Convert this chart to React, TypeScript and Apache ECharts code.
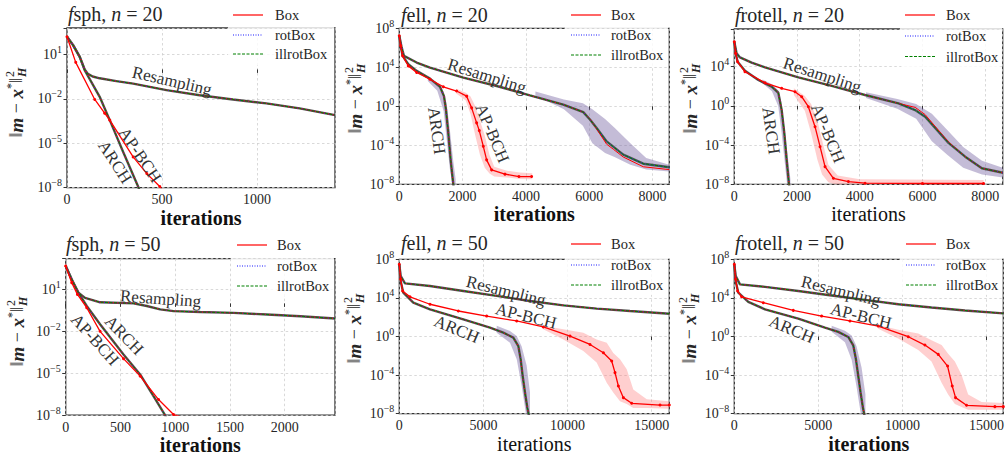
import React, { useEffect, useRef } from "react";
import * as echarts from "echarts";

type Pt = [number, number];
type BandPt = [number, number, number]; // [iteration, lower, upper]

// ---------------- data (iteration, ||m - x*||^2_H) ----------------
// f_sph, n = 20
const sphN20Resampling: Pt[] = [[0, 1.6e2], [32, 4.4e1], [67, 7.1], [93, 1.0], [110, 5.0e-1], [135, 3.3e-1], [172, 2.5e-1], [260, 1.6e-1], [348, 1.1e-1], [523, 4.0e-2], [698, 1.8e-2], [873, 9.3e-3], [1049, 5.0e-3], [1224, 2.3e-3], [1410, 8.1e-4]];
const sphN20Arch: Pt[] = [[0, 1.6e2], [32, 4.4e1], [67, 7.1], [93, 8.9e-1], [172, 1.4e-2], [225, 3.7e-4], [295, 2.7e-6], [374, 1.2e-8], [391, 3.2e-9]];
const sphN20Apbch: Pt[] = [[0, 1.6e2], [46, 3.0], [146, 9.3e-3], [198, 1.1e-3], [225, 3.7e-4], [348, 1.2e-6], [420, 9.0e-8], [488, 1.2e-8], [523, 3.2e-9]];

// f_ell, n = 20
const ellN20Resampling: Pt[] = [[0, 1.7e7], [74, 1.1e6], [147, 1.5e5], [548, 3.1e4], [969, 9.3e3], [2022, 8.7e2], [3075, 1.2e2], [4128, 1.3e1], [5181, 1.5], [5812, 2.5e-1], [6023, 4.4e-2], [6234, 6.0e-3], [6550, 2.5e-4], [7076, 1.1e-5], [7708, 1.3e-6], [8529, 5.6e-7]];
const ellN20ResamplingBox: Pt[] = [[0, 1.7e7], [74, 1.1e6], [147, 1.5e5], [548, 3.1e4], [969, 9.3e3], [2022, 8.7e2], [3075, 1.2e2], [4128, 1.3e1], [5181, 1.5], [5812, 2.5e-1], [6023, 5.0e-2], [6234, 5.0e-3], [6550, 1.3e-4], [6760, 4.0e-5], [7076, 6.3e-6], [7708, 6.3e-7], [8529, 3.2e-7]];
const ellN20Arch: Pt[] = [[0, 1.7e7], [42, 1.6e6], [105, 1.5e5], [284, 2.1e4], [548, 4.3e3], [969, 6.9e2], [1285, 1.0e2], [1411, 1.1e1], [1474, 4.7e-1], [1548, 1.8e-3], [1622, 3.2e-6], [1706, 1.0e-8], [1737, 1.2e-9]];
const ellN20Apbch: Pt[] = [[0, 1.7e7], [42, 1.6e6], [105, 1.5e5], [284, 1.4e4], [548, 2.9e3], [969, 5.9e2], [1390, 1.0e2], [1811, 3.7e1], [2127, 1.1e1], [2285, 6.9e-1], [2443, 2.0e-2], [2527, 3.2e-3], [2654, 7.8e-5], [2759, 3.2e-6], [2917, 3.0e-7], [3338, 1.1e-7], [3780, 6.2e-8], [4180, 6.2e-8]];
const ellN20ResamplingBand: BandPt[] = [[4300, 1.3e1, 3.2e1], [5200, 5.0e-1, 5.0], [5800, 1.0e-2, 2.0], [6100, 1.6e-4, 5.0e-1], [6500, 1.6e-5, 5.0e-2], [6800, 6.3e-6, 6.3e-3], [7300, 1.0e-6, 1.6e-4], [7800, 3.2e-7, 5.0e-6], [8530, 2.0e-7, 1.0e-6]];
const ellN20ArchBand: BandPt[] = [[900, 4.0e2, 1.0e3], [1200, 4.0e1, 2.0e2], [1400, 3.2e-1, 3.2e1], [1500, 3.2e-4, 1.6], [1600, 3.2e-7, 3.2e-3], [1700, 3.2e-9, 3.2e-6], [1780, 1.0e-9, 3.2e-8]];
const ellN20ApbchBand: BandPt[] = [[1800, 2.0e1, 6.3e1], [2100, 4.0, 2.5e1], [2250, 1.6e-1, 1.0e1], [2400, 1.0e-3, 1.0], [2550, 1.0e-5, 3.2e-2], [2700, 5.0e-7, 1.0e-3], [2850, 1.3e-7, 1.0e-5], [3000, 6.3e-8, 6.3e-7], [3400, 5.0e-8, 2.5e-7], [3800, 3.5e-8, 1.6e-7], [4200, 3.2e-8, 1.4e-7]];

// f_rotell, n = 20
const rotellN20Resampling: Pt[] = [[0, 3.5e6], [74, 2.3e5], [181, 8.9e4], [553, 2.6e4], [979, 8.5e3], [2043, 8.1e2], [3107, 1.1e2], [4170, 1.3e1], [5235, 1.8], [5767, 3.8e-1], [6086, 7.9e-2], [6299, 1.4e-2], [6831, 1.7e-4], [7363, 6.6e-6], [7895, 4.3e-7], [8565, 1.5e-7]];
const rotellN20ResamplingBox: Pt[] = [[0, 3.5e6], [74, 2.3e5], [181, 8.9e4], [553, 2.6e4], [979, 8.5e3], [2043, 8.1e2], [3107, 1.1e2], [4170, 1.3e1], [5235, 1.8], [5767, 7.1e-1], [6086, 1.3e-1], [6299, 2.0e-2], [6831, 2.0e-4], [7363, 6.6e-6], [7895, 4.3e-7], [8565, 1.5e-7]];
const rotellN20Arch: Pt[] = [[0, 3.5e6], [43, 2.3e5], [106, 3.2e4], [340, 3.9e3], [766, 4.4e2], [1192, 9.1e1], [1404, 2.2e1], [1511, 3.8e-1], [1596, 1.6e-3], [1670, 3.0e-6], [1745, 1.0e-8], [1777, 1.3e-9]];
const rotellN20Apbch: Pt[] = [[0, 3.5e6], [43, 2.3e5], [106, 3.2e4], [340, 3.1e3], [979, 2.3e2], [1511, 6.2e1], [1936, 2.8e1], [2149, 8.7], [2362, 8.3e-1], [2575, 7.6e-3], [2735, 6.9e-5], [2894, 6.3e-7], [3160, 4.1e-8], [3639, 1.9e-8], [4171, 1.3e-8], [6000, 1.2e-8], [7950, 1.2e-8]];
const rotellN20ResamplingBand: BandPt[] = [[4200, 6.3, 2.5e1], [5200, 5.0e-1, 5.0], [5800, 5.0e-2, 1.6], [6300, 2.5e-4, 1.6e-1], [6800, 1.0e-5, 3.2e-3], [7300, 5.0e-7, 6.3e-5], [7900, 1.0e-7, 2.5e-6], [8560, 5.0e-8, 5.0e-7]];
const rotellN20ArchBand: BandPt[] = [[900, 2.0e2, 5.0e2], [1200, 3.2e1, 1.6e2], [1400, 1.0, 4.0e1], [1500, 3.2e-3, 2.5], [1600, 3.2e-6, 6.3e-3], [1700, 3.2e-9, 1.0e-5], [1790, 1.0e-9, 3.2e-8]];
const rotellN20ApbchBand: BandPt[] = [[1900, 1.3e1, 6.3e1], [2250, 3.2e-1, 1.0e1], [2450, 1.6e-3, 1.6], [2650, 3.2e-6, 3.2e-2], [2800, 1.0e-7, 3.2e-4], [3000, 1.6e-8, 1.0e-6], [3300, 7.9e-9, 7.9e-8], [4000, 5.0e-9, 3.2e-8], [7950, 5.0e-9, 2.8e-8]];

// f_sph, n = 50
const sphN50Resampling: Pt[] = [[0, 4.7e2], [55, 5.2e1], [116, 5.8], [177, 2.5], [314, 1.2], [619, 1.0], [741, 6.5e-1], [863, 3.7e-1], [985, 2.8e-1], [1229, 2.4e-1], [1534, 2.1e-1], [1839, 1.6e-1], [2144, 1.2e-1], [2460, 8.3e-2]];
const sphN50Arch: Pt[] = [[0, 4.7e2], [55, 5.2e1], [116, 5.8], [192, 6.5e-1], [314, 3.2e-2], [528, 2.2e-4], [680, 8.1e-6], [802, 2.3e-7], [909, 9.5e-9], [939, 2.8e-9]];
const sphN50Apbch: Pt[] = [[0, 4.7e2], [55, 3.0e1], [107, 4.4], [192, 4.9e-1], [314, 1.0e-2], [528, 1.1e-4], [680, 6.2e-6], [848, 1.3e-7], [985, 1.1e-8], [1046, 7.9e-9]];

// f_ell, n = 50
const ellN50Resampling: Pt[] = [[0, 3.0e7], [79, 1.9e6], [337, 3.2e5], [1823, 1.7e5], [3805, 5.2e4], [5787, 1.6e4], [7769, 4.8e3], [9751, 1.7e3], [11733, 7.8e2], [13716, 4.4e2], [16050, 2.3e2]];
const ellN50Arch: Pt[] = [[0, 3.0e7], [79, 5.6e5], [238, 3.5e4], [832, 3.2e3], [1823, 6.6e2], [3805, 6.0e1], [5391, 8.3], [6184, 2.5], [6778, 7.6e-1], [7076, 1.0e-1], [7215, 4.3e-3], [7334, 8.1e-5], [7473, 1.5e-6], [7611, 4.2e-8], [7710, 5.8e-9]];
const ellN50Apbch: Pt[] = [[0, 3.0e7], [79, 8.5e5], [198, 5.2e4], [634, 1.3e4], [1823, 2.2e3], [3508, 4.4e2], [5193, 1.3e2], [6977, 4.1e1], [8562, 9.8], [10148, 1.1], [11337, 1.5e-1], [12130, 2.1e-2], [12625, 2.9e-3], [12823, 1.8e-4], [13022, 7.4e-6], [13319, 4.6e-7], [13814, 1.2e-7], [15499, 7.9e-8], [16050, 7.9e-8]];
const ellN50ArchBand: BandPt[] = [[5790, 2.5, 1.3e1], [6580, 2.3e-1, 3.7], [6980, 4.3e-3, 1.1], [7270, 7.9e-6, 1.0e-1], [7570, 3.2e-9, 1.0e-3], [7770, 3.2e-9, 1.6e-6]];
const ellN50ApbchBand: BandPt[] = [[8560, 5.5, 1.3e1], [9750, 5.0e-1, 5.5], [10940, 3.2e-2, 2.5], [11730, 2.0e-3, 5.0e-1], [12330, 1.6e-5, 2.3e-1], [12720, 1.6e-6, 2.0e-2], [13120, 2.0e-7, 4.3e-3], [13520, 1.0e-7, 4.0e-4], [13910, 4.0e-8, 3.2e-6], [14710, 4.0e-8, 3.2e-7], [16050, 3.2e-8, 2.0e-7]];

// f_rotell, n = 50
const rotellN50Resampling: Pt[] = [[0, 3.0e7], [79, 1.9e6], [337, 2.5e5], [1823, 1.4e5], [3805, 5.2e4], [5787, 1.8e4], [7769, 6.2e3], [9751, 2.2e3], [11733, 1.0e3], [13716, 5.0e2], [16000, 2.5e2]];
const rotellN50Arch: Pt[] = [[0, 3.0e7], [79, 5.6e5], [238, 3.5e4], [832, 3.8e3], [1823, 6.6e2], [3805, 7.1e1], [5391, 8.3], [6184, 3.0], [6778, 8.9e-1], [7076, 1.2e-1], [7235, 4.3e-3], [7373, 8.1e-5], [7512, 1.5e-6], [7651, 4.2e-8], [7750, 5.8e-9]];
const rotellN50Apbch: Pt[] = [[0, 3.0e7], [79, 8.5e5], [198, 5.2e4], [436, 1.3e4], [1724, 3.2e3], [3508, 5.1e2], [5193, 1.3e2], [6878, 4.1e1], [8562, 1.2e1], [10346, 9.5e-1], [11337, 1.3e-1], [12130, 1.4e-2], [12685, 8.7e-4], [12962, 7.4e-6], [13160, 4.6e-7], [13814, 7.4e-8], [15499, 5.4e-8], [16000, 5.4e-8]];
const rotellN50ArchBand: BandPt[] = [[5790, 3.2, 1.3e1], [6580, 2.5e-1, 4.0], [6980, 4.0e-3, 1.3], [7270, 6.3e-6, 1.0e-1], [7570, 3.2e-9, 6.3e-4], [7800, 3.2e-9, 1.0e-6]];
const rotellN50ApbchBand: BandPt[] = [[8560, 6.3, 1.6e1], [9750, 6.3e-1, 5.0], [10940, 4.0e-2, 2.0], [11730, 2.5e-3, 4.0e-1], [12330, 1.6e-5, 1.3e-1], [12720, 1.0e-6, 1.6e-2], [13120, 1.0e-7, 2.5e-3], [13520, 5.0e-8, 1.0e-4], [13910, 2.5e-8, 1.0e-6], [14710, 2.5e-8, 1.6e-7], [16000, 2.5e-8, 1.3e-7]];

const legendNames = ["Box", "rotBox", "illrotBox"];
const curveNames = { resampling: "Resampling", apbch: "AP-BCH", arch: "ARCH" };

// ---------------- layout / style ----------------
const FONT = "'Liberation Serif', 'DejaVu Serif', serif";
const TXT = "#262626";
const RED = "#ff0000";
const BLUE = "#1a1aff";
const GREEN = "#008000";
const DARK = "#555555";
const BAND_GRAY = "rgba(115, 95, 160, 0.42)";
const BAND_PINK = "rgba(255, 95, 95, 0.3)";

interface Panel {
  fn: string;
  n: number;
  grid: [number, number, number, number];
  xMax: number;
  xInterval: number;
  yMax: number;
  yInterval: number;
  resampling: Pt[];
  resamplingBox?: Pt[];
  arch: Pt[];
  apbch: Pt[];
  resamplingBand?: BandPt[];
  archBand?: BandPt[];
  apbchBand?: BandPt[];
  title: [number, number];
  legend: [number, number, number[]];
  legendBox: [number, number, number, number];
  ylab: [number, number];
  xBold: boolean;
  xGap: number;
  labels: { resampling: number[]; apbch: number[]; arch: number[] };
}

const panels: Panel[] = [
  {
    fn: "sph", n: 20, grid: [67, 28, 268, 159.7], xMax: 1410, xInterval: 500, yMax: 2.8, yInterval: 3,
    resampling: sphN20Resampling, arch: sphN20Arch, apbch: sphN20Apbch,
    title: [68, 14], legend: [233, 275, [15, 35, 54]], legendBox: [228, 4, 106, 61], ylab: [16, 110],
    xBold: true, xGap: 16,
    labels: { resampling: [172, 81, -13], apbch: [140, 155, -56], arch: [115, 162, -57] },
  },
  {
    fn: "ell", n: 20, grid: [399.3, 28.3, 270, 156], xMax: 8530, xInterval: 2000, yMax: 8, yInterval: 4,
    resampling: ellN20Resampling, resamplingBox: ellN20ResamplingBox, arch: ellN20Arch, apbch: ellN20Apbch,
    resamplingBand: ellN20ResamplingBand, archBand: ellN20ArchBand, apbchBand: ellN20ApbchBand,
    title: [401, 15], legend: [571, 611, [15, 35, 55]], legendBox: [565, 4, 103, 62], ylab: [355, 106],
    xBold: true, xGap: 15,
    labels: { resampling: [487, 76, -17.5], apbch: [492.3, 133.3, -67], arch: [436.7, 130.7, -82] },
  },
  {
    fn: "rotell", n: 20, grid: [734.3, 29, 268.4, 155.3], xMax: 8560, xInterval: 2000, yMax: 7.85, yInterval: 4,
    resampling: rotellN20Resampling, resamplingBox: rotellN20ResamplingBox, arch: rotellN20Arch, apbch: rotellN20Apbch,
    resamplingBand: rotellN20ResamplingBand, archBand: rotellN20ArchBand, apbchBand: rotellN20ApbchBand,
    title: [735, 15], legend: [905, 946, [15, 36, 56.5]], legendBox: [900, 4, 102, 63], ylab: [690, 106],
    xBold: false, xGap: 15,
    labels: { resampling: [822.3, 75, -18], apbch: [827.7, 133.3, -67], arch: [771, 130.7, -82] },
  },
  {
    fn: "sph", n: 50, grid: [65.7, 258.7, 269.3, 156.6], xMax: 2460, xInterval: 500, yMax: 3.2, yInterval: 3,
    resampling: sphN50Resampling, arch: sphN50Arch, apbch: sphN50Apbch,
    title: [66, 244], legend: [237, 277, [245, 266, 286]], legendBox: [231, 234, 103, 62], ylab: [17, 339],
    xBold: true, xGap: 16,
    labels: { resampling: [160.7, 298.7, -4], apbch: [95, 339.7, -48], arch: [124, 335.3, -46] },
  },
  {
    fn: "ell", n: 50, grid: [399.3, 259.3, 270, 154.4], xMax: 16050, xInterval: 5000, yMax: 8, yInterval: 4,
    resampling: ellN50Resampling, arch: ellN50Arch, apbch: ellN50Apbch,
    archBand: ellN50ArchBand, apbchBand: ellN50ApbchBand,
    title: [401, 243], legend: [571, 611, [244, 265, 285]], legendBox: [565, 233, 103, 62], ylab: [354, 336],
    xBold: false, xGap: 14.5,
    labels: { resampling: [506, 291, -14], apbch: [526, 316, -14], arch: [456.7, 329.3, -23] },
  },
  {
    fn: "rotell", n: 50, grid: [734.3, 259.3, 269, 154.4], xMax: 16000, xInterval: 5000, yMax: 8, yInterval: 4,
    resampling: rotellN50Resampling, arch: rotellN50Arch, apbch: rotellN50Apbch,
    archBand: rotellN50ArchBand, apbchBand: rotellN50ApbchBand,
    title: [735, 243], legend: [906, 946, [244, 265, 285]], legendBox: [900, 233, 102, 62], ylab: [689, 336],
    xBold: true, xGap: 14.5,
    labels: { resampling: [841, 291, -14], apbch: [861, 316, -14], arch: [791.7, 329.3, -23] },
  },
];

const toLog = (pts: Pt[]) => pts.map(([x, v]) => [x, Math.log10(v)]);

function bandSeries(band: BandPt[], idx: number, color: string, z: number) {
  return {
    type: "custom",
    xAxisIndex: idx,
    yAxisIndex: idx,
    clip: true,
    silent: true,
    z,
    data: [[band[0][0], Math.log10(band[0][2])]],
    renderItem: (_p: any, api: any) => {
      const top = band.map((b) => api.coord([b[0], Math.log10(b[2])]));
      const bottom = band
        .slice()
        .reverse()
        .map((b) => api.coord([b[0], Math.log10(b[1])]));
      return { type: "polygon", shape: { points: top.concat(bottom) }, style: { fill: color } };
    },
  };
}

function lineSeries(name: string, pts: Pt[], idx: number, color: string, width: number, type: any, z: number, symbols = false) {
  return {
    type: "line",
    name,
    xAxisIndex: idx,
    yAxisIndex: idx,
    data: toLog(pts),
    showSymbol: symbols,
    symbol: symbols ? "circle" : "none",
    symbolSize: 3,
    itemStyle: { color },
    lineStyle: { color, width, type },
    clip: true,
    silent: true,
    z,
  };
}

const sup = (e: number) => (e < 0 ? "−" + String(-e) : String(e));

function buildOption() {
  const grid: any[] = [];
  const xAxis: any[] = [];
  const yAxis: any[] = [];
  const series: any[] = [];
  const elements: any[] = [];

  panels.forEach((p, i) => {
    grid.push({
      left: p.grid[0], top: p.grid[1], width: p.grid[2], height: p.grid[3],
      show: true, borderColor: "#333333", borderWidth: 1.3, backgroundColor: "rgba(0,0,0,0)",
    });
    const tick = { show: true, inside: false, length: 3.5, lineStyle: { color: "#333333", width: 1 } };
    const split = { show: true, lineStyle: { color: "#cfcfcf", width: 0.8, type: [2.5, 2.5] } };
    xAxis.push({
      type: "value", gridIndex: i, min: 0, max: p.xMax, interval: p.xInterval,
      axisLine: { show: false }, axisTick: tick, splitLine: split,
      axisLabel: {
        margin: 5, fontFamily: FONT, fontSize: 14, color: TXT, showMaxLabel: false,
        formatter: (v: number) => (Math.abs(v % p.xInterval) < 1e-6 ? String(v) : ""),
      },
      name: "iterations", nameLocation: "middle", nameGap: p.xGap,
      nameTextStyle: { fontFamily: FONT, fontSize: 20, fontWeight: p.xBold ? "bold" : "normal", color: "#111" },
    });
    yAxis.push({
      type: "value", gridIndex: i, min: -8, max: p.yMax, interval: p.yInterval,
      axisLine: { show: false }, axisTick: tick, splitLine: split,
      axisLabel: {
        margin: 5,
        formatter: (v: number) => {
          if (Math.abs(v - Math.round(v)) > 1e-6) return "";
          return `{b|10}{s|${sup(Math.round(v))}}`;
        },
        rich: {
          b: { fontFamily: FONT, fontSize: 14, color: TXT, lineHeight: 20 },
          s: { fontFamily: FONT, fontSize: 10, color: TXT, lineHeight: 12, verticalAlign: "top" },
        },
      },
    });

    // confidence bands
    if (p.resamplingBand) series.push(bandSeries(p.resamplingBand, i, BAND_GRAY, 1));
    if (p.archBand) series.push(bandSeries(p.archBand, i, BAND_GRAY, 1));
    if (p.apbchBand) series.push(bandSeries(p.apbchBand, i, BAND_PINK, 1));

    // Resampling & ARCH: dark underlay + three boundary handlings
    for (const key of ["resampling", "arch"] as const) {
      const pts = p[key];
      const boxPts = key === "resampling" && p.resamplingBox ? p.resamplingBox : pts;
      series.push(lineSeries(curveNames[key] + " (all)", pts, i, DARK, 2.4, "solid", 2));
      series.push(lineSeries(curveNames[key] + " Box", boxPts, i, RED, 1, "solid", 3));
      series.push(lineSeries(curveNames[key] + " rotBox", pts, i, BLUE, 1, [1, 1.5], 3));
      series.push(lineSeries(curveNames[key] + " illrotBox", pts, i, GREEN, 1, [3, 1.5], 3));
    }
    // AP-BCH
    series.push(lineSeries("AP-BCH Box", p.apbch, i, RED, 1.3, "solid", 4, true));

    // title
    elements.push({
      type: "text", x: p.title[0], y: p.title[1], z: 20,
      style: {
        text: `{f|f}{t|${p.fn}, }{n|n}{t| = ${p.n}}`,
        textAlign: "left", textVerticalAlign: "middle", align: "left", verticalAlign: "middle",
        rich: {
          f: { fontFamily: FONT, fontSize: 20, fontStyle: "italic", fill: TXT, color: TXT },
          t: { fontFamily: FONT, fontSize: 20, fill: TXT, color: TXT },
          n: { fontFamily: FONT, fontSize: 20, fontStyle: "italic", fill: TXT, color: TXT },
        },
      },
    });

    // y label
    elements.push({
      type: "group", x: p.ylab[0], y: p.ylab[1], rotation: Math.PI / 2, z: 20,
      children: [
        {
          type: "text", x: 32, y: 0, z: 20,
          style: {
            text: "{n|‖}{b|m}{n| − }{b|x}{s|*}{n|‖}",
            textAlign: "right", textVerticalAlign: "middle", align: "right", verticalAlign: "middle",
            rich: {
              n: { fontFamily: FONT, fontSize: 18, fill: TXT, color: TXT, lineHeight: 22 },
              b: { fontFamily: FONT, fontSize: 19, fontStyle: "italic", fontWeight: "bold", fill: TXT, color: TXT, lineHeight: 22 },
              s: { fontFamily: FONT, fontSize: 12, fill: TXT, color: TXT, lineHeight: 12, verticalAlign: "top" },
            },
          },
        },
        {
          type: "text", x: 33, y: -6, z: 20,
          style: { text: "2", fontFamily: FONT, fontSize: 12, fill: TXT, textAlign: "left", textVerticalAlign: "middle", align: "left", verticalAlign: "middle" },
        },
        {
          type: "text", x: 33, y: 6, z: 20,
          style: { text: "H", fontFamily: FONT, fontSize: 12, fontStyle: "italic", fontWeight: "bold", fill: TXT, textAlign: "left", textVerticalAlign: "middle", align: "left", verticalAlign: "middle" },
        },
      ],
    });

    // legend
    const [lb0, lb1, lb2, lb3] = p.legendBox;
    elements.push({
      type: "rect", z: 15, shape: { x: lb0, y: lb1, width: lb2, height: lb3, r: 3 },
      style: { fill: "rgba(255,255,255,0.8)" },
    });
    const legendStyles = [
      { stroke: RED, lineDash: null },
      { stroke: BLUE, lineDash: [1, 1.5] },
      { stroke: GREEN, lineDash: [3, 1.5] },
    ];
    legendNames.forEach((name, k) => {
      const ry = p.legend[2][k];
      elements.push({
        type: "line", z: 16,
        shape: { x1: p.legend[0], y1: ry, x2: p.legend[0] + 30, y2: ry },
        style: { stroke: legendStyles[k].stroke, lineWidth: 1.2, lineDash: legendStyles[k].lineDash },
      });
      elements.push({
        type: "text", x: p.legend[1], y: ry, z: 16,
        style: { text: name, fontFamily: FONT, fontSize: 14.5, fill: TXT, textAlign: "left", textVerticalAlign: "middle", align: "left", verticalAlign: "middle" },
      });
    });

    // curve labels
    for (const key of ["resampling", "apbch", "arch"] as const) {
      const [lx, ly, deg] = p.labels[key];
      elements.push({
        type: "text", x: lx, y: ly, rotation: (deg * Math.PI) / 180, z: 18,
        style: { text: curveNames[key], fontFamily: FONT, fontSize: 17, fill: "#333", textAlign: "center", textVerticalAlign: "middle", align: "center", verticalAlign: "middle" },
      });
    }
  });

  return { animation: false, grid, xAxis, yAxis, series, graphic: { elements } };
}

export default function App() {
  const ref = useRef<HTMLDivElement>(null);
  useEffect(() => {
    if (!ref.current) return;
    const chart = echarts.init(ref.current, undefined, { renderer: "svg" });
    chart.setOption(buildOption() as any);
    return () => chart.dispose();
  }, []);
  return (
    <div
      ref={ref}
      style={{ position: "absolute", left: 0, top: 0, width: 1008, height: 456, background: "#fff" }}
    />
  );
}
